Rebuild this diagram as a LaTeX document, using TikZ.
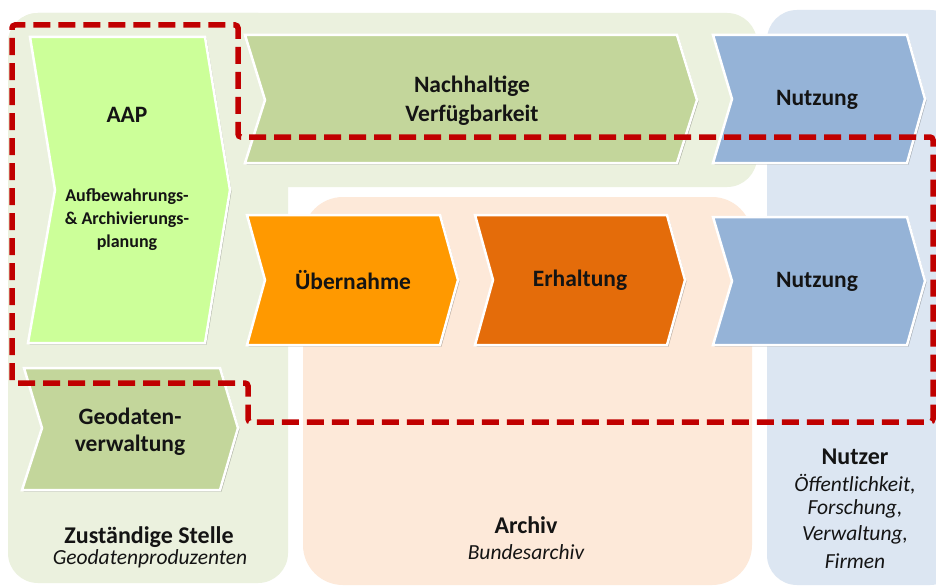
\documentclass[tikz,border=0pt]{standalone}
\usepackage{fontspec}
\setmainfont{Carlito}
\usetikzlibrary{shadows}
\definecolor{bggreen}{HTML}{EBF1DE}
\definecolor{bgpeach}{HTML}{FDE9D9}
\definecolor{bgblue}{HTML}{DCE6F2}
\definecolor{lime}{HTML}{CCFF99}
\definecolor{olive}{HTML}{C3D69B}
\definecolor{chblue}{HTML}{95B3D7}
\definecolor{orng}{HTML}{FF9900}
\definecolor{dorng}{HTML}{E46C0A}
\definecolor{dred}{HTML}{C00000}
\definecolor{txt}{HTML}{141414}
\begin{document}
\begin{tikzpicture}[x=1pt,y=-1pt,
  chev/.style={draw=white, line width=2.5pt, line join=miter,
    drop shadow={shadow xshift=1.5pt, shadow yshift=-1.5pt, opacity=0.25, fill=black}},
  lbl/.style={font=\bfseries\fontsize{23.5}{29}\selectfont, text=txt, align=center, inner sep=0pt},
  smalllbl/.style={font=\bfseries\fontsize{18}{23}\selectfont, text=txt, align=center, inner sep=0pt},
  grouptitle/.style={font=\bfseries\fontsize{24}{26}\selectfont, text=txt, inner sep=0pt},
  groupsub/.style={font=\itshape\fontsize{21.5}{25}\selectfont, text=txt, inner sep=0pt},
  redline/.style={draw=dred, line width=5.5pt, dash pattern=on 17pt off 8pt, rounded corners=3pt}]
\fill[white] (0,0) rectangle (936,586);
\clip (0,0) rectangle (936,586);
% background regions
\fill[bggreen, rounded corners=30pt] (8,13) rectangle (757,187);
\fill[bggreen, rounded corners=30pt] (8,13) rectangle (288,583);
\fill[bgpeach, rounded corners=40pt] (303,197) rectangle (752,585);
\fill[bgblue, rounded corners=30pt] (767,10) rectangle (960,585);
% chevrons
\filldraw[chev, fill=lime] (30,37) -- (205,37) -- (230,190) -- (205,343) -- (28,343) -- (55,190) -- cycle;
\filldraw[chev, fill=olive] (245,35) -- (677,35) -- (697,100) -- (677,163) -- (245,163) -- (265,100) -- cycle;
\filldraw[chev, fill=chblue] (713,35) -- (907,35) -- (925,99) -- (907,163) -- (713,163) -- (732,99) -- cycle;
\filldraw[chev, fill=orng] (247,215) -- (440,215) -- (458,280) -- (440,345) -- (247,345) -- (265,280) -- cycle;
\filldraw[chev, fill=dorng] (475,215) -- (667,215) -- (685,280) -- (667,345) -- (475,345) -- (493,280) -- cycle;
\filldraw[chev, fill=chblue] (713,217) -- (907,217) -- (925,281) -- (907,345) -- (713,345) -- (732,281) -- cycle;
\filldraw[chev, fill=olive] (24,368) -- (220,368) -- (238,428) -- (220,490) -- (22,490) -- (42,428) -- cycle;
% labels
\node[lbl] (aap) at (127,115) {AAP};
\node[smalllbl] (aaptxt) at (127,220) {Aufbewahrungs-\\\& Archivierungs-\\planung};
\node[lbl] (nv) at (472,101) {Nachhaltige\\Verfügbarkeit};
\node[lbl] (nutz1) at (817,100) {Nutzung};
\node[lbl] (uebern) at (353,280) {Übernahme};
\node[lbl] (erhalt) at (580,280) {Erhaltung};
\node[lbl] (nutz2) at (817,282) {Nutzung};
\node[lbl, font=\bfseries\fontsize{23.5}{27}\selectfont] (geo) at (130,432) {Geodaten-\\verwaltung};
\node[grouptitle] (zust) at (149,537) {Zuständige Stelle};
\node[groupsub] (geoprod) at (150,559) {Geodatenproduzenten};
\node[grouptitle] (archiv) at (526,525) {Archiv};
\node[groupsub] (barchiv) at (526,552) {Bundesarchiv};
\node[grouptitle] (nutzer) at (855,457) {Nutzer};
\node[groupsub] (n1) at (855,484) {Öffentlichkeit,};
\node[groupsub] (n2) at (855,509) {Forschung,};
\node[groupsub] (n3) at (855,535) {Verwaltung,};
\node[groupsub] (n4) at (855,561) {Firmen};
% dashed outline
\draw[redline] (12,383) -- (12,25) -- (238,25) -- (238,137) -- (933,137) -- (933,422) -- (248,422) -- (248,383) -- cycle;
\end{tikzpicture}
\end{document}
